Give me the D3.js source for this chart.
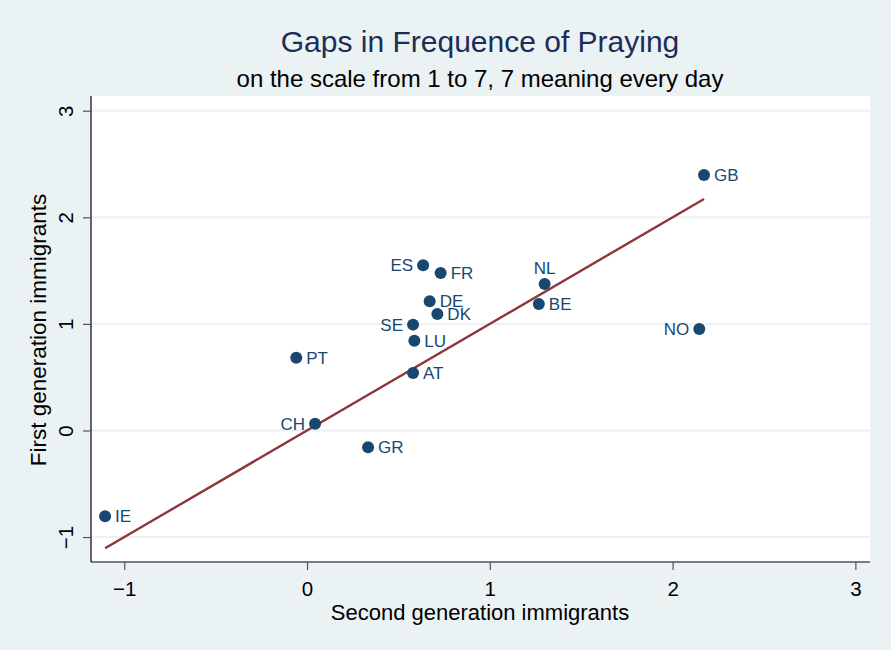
<!DOCTYPE html>
<html>
<head>
<meta charset="utf-8">
<script src="https://cdn.jsdelivr.net/npm/d3@7"></script>
<style>
	body { margin: 0; background: #eaf2f3; }
	svg { display: block; font-family: "Liberation Sans", Arial, sans-serif; }
</style>
</head>
<body>
<div id="chart"></div>
<script>
// country codes and their gaps (second generation on x, first generation on y)
var countries = ["GB", "ES", "FR", "NL", "DE", "DK", "BE", "SE", "LU", "PT", "AT", "NO", "CH", "GR", "IE"];
var secondGen = [2.172, 0.635, 0.731, 1.300, 0.671, 0.713, 1.268, 0.580, 0.587, -0.059, 0.580, 2.146, 0.044, 0.334, -1.105];
var firstGen = [2.397, 1.550, 1.477, 1.374, 1.212, 1.093, 1.187, 0.993, 0.842, 0.683, 0.539, 0.952, 0.064, -0.158, -0.805];
// where the marker label sits: r = right, l = left, t = top
var labelPos = ["r", "l", "r", "t", "r", "r", "r", "l", "r", "r", "r", "l", "l", "r", "r"];
var xTicks = [-1, 0, 1, 2, 3];
var yTicks = [-1, 0, 1, 2, 3];

var width = 891,
	height = 650,
	plot = { left: 91, right: 870, top: 96, bottom: 562 };

var data = countries.map((c, i) => {
	return { country: c, x: secondGen[i], y: firstGen[i], pos: labelPos[i] };
});

var x = d3.scaleLinear()
	.domain([-1.182, 3.08])
	.range([plot.left, plot.right]);

var y = d3.scaleLinear()
	.domain([-1.234, 3.138])
	.range([plot.bottom, plot.top]);

var svg = d3.select("#chart")
	.append("svg")
	.attr("width", width)
	.attr("height", height);

svg.append("rect")
	.attr("width", width)
	.attr("height", height)
	.attr("fill", "#eaf2f3");

svg.append("rect")
	.attr("x", plot.left)
	.attr("y", plot.top)
	.attr("width", plot.right - plot.left)
	.attr("height", plot.bottom - plot.top)
	.attr("fill", "#ffffff");

// horizontal grid
svg.append("g")
	.selectAll("line")
	.data(yTicks)
	.enter()
	.append("line")
	.attr("x1", plot.left)
	.attr("x2", plot.right)
	.attr("y1", d => y(d))
	.attr("y2", d => y(d))
	.attr("stroke", "#eaf2f3")
	.attr("stroke-width", 2);

var xAxis = d3.axisBottom(x)
	.tickValues(xTicks)
	.tickSize(8)
	.tickSizeOuter(0)
	.tickFormat(d3.format("d"));

var yAxis = d3.axisLeft(y)
	.tickValues(yTicks)
	.tickSize(8)
	.tickSizeOuter(0)
	.tickFormat(d3.format("d"));

var gx = svg.append("g")
	.attr("transform", `translate(0,${plot.bottom})`)
	.call(xAxis);

var gy = svg.append("g")
	.attr("transform", `translate(${plot.left},0)`)
	.call(yAxis);

[gx, gy].forEach(g => {
	g.select(".domain").attr("stroke", "#000").attr("stroke-width", 1.2);
	g.selectAll(".tick line").attr("stroke", "#555").attr("stroke-width", 1.2);
	g.selectAll(".tick text")
		.attr("fill", "#000")
		.style("font-size", "20.5px")
		.style("font-family", "'Liberation Sans', Arial, sans-serif");
});

gx.select(".domain").attr("d", `M${plot.left},0H${plot.right}`);
gy.select(".domain").attr("d", `M0,${plot.bottom}V${plot.top}`);

gx.selectAll(".tick text")
	.attr("y", 34)
	.attr("dy", null);

// Stata-style vertical tick labels on the y axis
gy.selectAll(".tick text")
	.attr("x", null)
	.attr("dy", null)
	.attr("text-anchor", "middle")
	.attr("transform", "translate(-18,0) rotate(-90)");

// identity line over the range of the data
var xExtent = d3.extent(secondGen);
var line = d3.line()
	.x(d => x(d))
	.y(d => y(d));

svg.append("path")
	.datum(xExtent)
	.attr("d", line)
	.attr("fill", "none")
	.attr("stroke", "#90353b")
	.attr("stroke-width", 2.4);

var point = svg.selectAll(".point")
	.data(data)
	.enter()
	.append("g")
	.attr("class", "point");

point.append("circle")
	.attr("cx", d => x(d.x))
	.attr("cy", d => y(d.y))
	.attr("r", 6)
	.attr("fill", "#1a476f");

point.append("text")
	.attr("x", d => {
		if (d.pos === "r") return x(d.x) + 10;
		if (d.pos === "l") return x(d.x) - 10;
		return x(d.x);
	})
	.attr("y", d => d.pos === "t" ? y(d.y) - 10 : y(d.y))
	.attr("dy", d => d.pos === "t" ? "0" : "0.36em")
	.attr("text-anchor", d => {
		if (d.pos === "r") return "start";
		if (d.pos === "l") return "end";
		return "middle";
	})
	.attr("fill", "#1a476f")
	.style("font-size", "17px")
	.text(d => d.country);

svg.append("text")
	.attr("x", 480)
	.attr("y", 52)
	.attr("text-anchor", "middle")
	.attr("fill", "#1c2d57")
	.style("font-size", "30px")
	.text("Gaps in Frequence of Praying");

svg.append("text")
	.attr("x", 480)
	.attr("y", 87)
	.attr("text-anchor", "middle")
	.attr("fill", "#000")
	.style("font-size", "24px")
	.text("on the scale from 1 to 7, 7 meaning every day");

svg.append("text")
	.attr("x", 480)
	.attr("y", 620)
	.attr("text-anchor", "middle")
	.attr("fill", "#000")
	.style("font-size", "22px")
	.text("Second generation immigrants");

svg.append("text")
	.attr("transform", `translate(46,${(plot.top + plot.bottom) / 2 + 1}) rotate(-90)`)
	.attr("text-anchor", "middle")
	.attr("fill", "#000")
	.style("font-size", "22.5px")
	.text("First generation immigrants");
</script>
</body>
</html>
